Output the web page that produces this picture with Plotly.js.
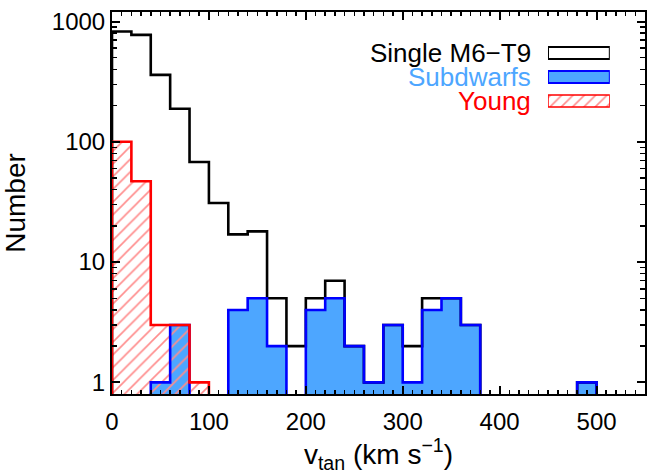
<!DOCTYPE html>
<html>
<head>
<meta charset="utf-8">
<script src="https://cdn.plot.ly/plotly-3.0.1.min.js"></script>
<style>html,body{margin:0;padding:0;background:#fff;}</style>
</head>
<body>
<div id="chart" style="width:647px;height:474px;"></div>
<script>
// Bin edges (km/s), width 20
var binWidth = 20;
var binStarts = [0,20,40,60,80,100,120,140,160,180,200,220,240,260,280,300,320,340,360,380,400,420,440,460,480,500,520];
// Counts per bin
var singleCounts = [826,774,360,188,68,31,17,18,5,2,5,7,2,1,3,2,5,5,3,0,0,0,0,0,1,0,0];
var subdwarfCounts = [0,0,1,3,0,0,4,5,2,0,4,5,2,1,3,1,4,5,3,0,0,0,0,0,1,0,0];
var youngCounts = [100,47,3,3,1,0,0,0,0,0,0,0,0,0,0,0,0,0,0,0,0,0,0,0,0,0,0];
var legendLabels = ['Single M6\u2212T9', 'Subdwarfs', 'Young'];

var xTickVals = [0,100,200,300,400,500];
var yTickVals = [1,10,100,1000];
var yTickText = ['1','10','100','1000'];

var FLOOR = 0.3;
function centers(){ return binStarts.map(function(s){ return s + binWidth/2; }); }
function stepOutline(counts){
  var xs = [binStarts[0]], ys = [FLOOR];
  for (var i = 0; i < counts.length; i++){
    var v = counts[i] > 0 ? counts[i] : FLOOR;
    xs.push(binStarts[i]); ys.push(v);
    xs.push(binStarts[i] + binWidth); ys.push(v);
  }
  xs.push(binStarts[binStarts.length-1] + binWidth); ys.push(FLOOR);
  return {x: xs, y: ys};
}
function nz(arr){ return arr.map(function(v){ return v > 0 ? v : null; }); }

var BLUE_FILL = '#4da6ff';
var BLUE_LINE = '#0000ff';
var RED = '#ff0000';
var HATCH = '#ff8c8c';
var LW = 2.6;

var sO = stepOutline(singleCounts);
var bO = stepOutline(subdwarfCounts);
var yO = stepOutline(youngCounts);

var traces = [
  {type:'scatter', mode:'lines', x:sO.x, y:sO.y, line:{color:'#000', width:LW}, showlegend:false, hoverinfo:'skip'},
  {type:'bar', x:centers(), y:nz(subdwarfCounts), width:binWidth, marker:{color:BLUE_FILL, line:{width:0}}, showlegend:false},
  {type:'scatter', mode:'lines', x:bO.x, y:bO.y, line:{color:BLUE_LINE, width:LW}, showlegend:false, hoverinfo:'skip'},
  {type:'bar', x:centers(), y:nz(youngCounts), width:binWidth,
   marker:{color:'rgba(0,0,0,0)', line:{width:0},
           pattern:{shape:'/', fgcolor:HATCH, bgcolor:'rgba(0,0,0,0)', size:9, solidity:0.18, fillmode:'replace'}}, showlegend:false},
  {type:'scatter', mode:'lines', x:yO.x, y:yO.y, line:{color:RED, width:LW}, showlegend:false, hoverinfo:'skip'},
  // legend sample boxes
  {type:'bar', orientation:'h', xaxis:'x2', yaxis:'y2', y:[2], x:[1], width:0.5,
   marker:{color:'#ffffff', line:{color:'#000', width:2}}, showlegend:false, hoverinfo:'skip'},
  {type:'bar', orientation:'h', xaxis:'x2', yaxis:'y2', y:[1], x:[1], width:0.5,
   marker:{color:BLUE_FILL, line:{color:BLUE_LINE, width:2}}, showlegend:false, hoverinfo:'skip'},
  {type:'bar', orientation:'h', xaxis:'x2', yaxis:'y2', y:[0], x:[1], width:0.5,
   marker:{color:'rgba(0,0,0,0)', line:{color:RED, width:1.5},
           pattern:{shape:'/', fgcolor:HATCH, bgcolor:'rgba(0,0,0,0)', size:8, solidity:0.2, fillmode:'replace'}}, showlegend:false, hoverinfo:'skip'}
];

var FONT = 'Liberation Sans, Arial, Helvetica, sans-serif';
var minorY = [];
[1,10,100,1000].forEach(function(d){ for (var k=2;k<=9;k++) minorY.push(d*k); });

var layout = {
  width:647, height:474,
  margin:{l:112, r:2, t:12, b:80},
  paper_bgcolor:'#fff', plot_bgcolor:'#fff',
  barmode:'overlay', bargap:0,
  font:{family:FONT, size:24, color:'#000'},
  showlegend:false,
  xaxis:{
    range:[0,550], showgrid:false, zeroline:false,
    showline:true, linecolor:'#000', linewidth:2, mirror:'allticks',
    ticks:'inside', ticklen:8, tickwidth:2, tickcolor:'#000',
    tickvals:xTickVals, ticktext:xTickVals.map(String),
    minor:{ticks:'inside', ticklen:4, tickwidth:1.5, tickcolor:'#000', dtick:10, showgrid:false},
    tickfont:{size:24}, ticklabelstandoff:5,
    title:{text:'v<sub>tan</sub> (km s<sup>\u22121</sup>)', font:{size:28}, standoff:10}
  },
  yaxis:{
    type:'log', range:[Math.log10(0.8), Math.log10(1200)], showgrid:false, zeroline:false,
    showline:true, linecolor:'#000', linewidth:2, mirror:'allticks',
    ticks:'inside', ticklen:8, tickwidth:2, tickcolor:'#000',
    tickvals:yTickVals, ticktext:yTickText,
    minor:{ticks:'inside', ticklen:5, tickwidth:1.5, tickcolor:'#000', tickmode:'array', tickvals:minorY, showgrid:false},
    tickfont:{size:24},
    title:{text:'Number', font:{size:28}, standoff:20}
  },
  xaxis2:{domain:[0.818,0.934], range:[0,1], visible:false, anchor:'y2'},
  yaxis2:{domain:[0.7356,0.924], range:[-0.5,2.5], visible:false, anchor:'x2'},
  annotations:[
    {xref:'paper', yref:'paper', x:0.79, y:0.893, xanchor:'right', yanchor:'middle', text:legendLabels[0], showarrow:false, font:{size:26, color:'#000'}},
    {xref:'paper', yref:'paper', x:0.79, y:0.830, xanchor:'right', yanchor:'middle', text:legendLabels[1], showarrow:false, font:{size:26, color:BLUE_FILL}},
    {xref:'paper', yref:'paper', x:0.79, y:0.767, xanchor:'right', yanchor:'middle', text:legendLabels[2], showarrow:false, font:{size:26, color:RED}}
  ]
};

Plotly.newPlot('chart', traces, layout, {displayModeBar:false, staticPlot:true});
</script>
</body>
</html>
